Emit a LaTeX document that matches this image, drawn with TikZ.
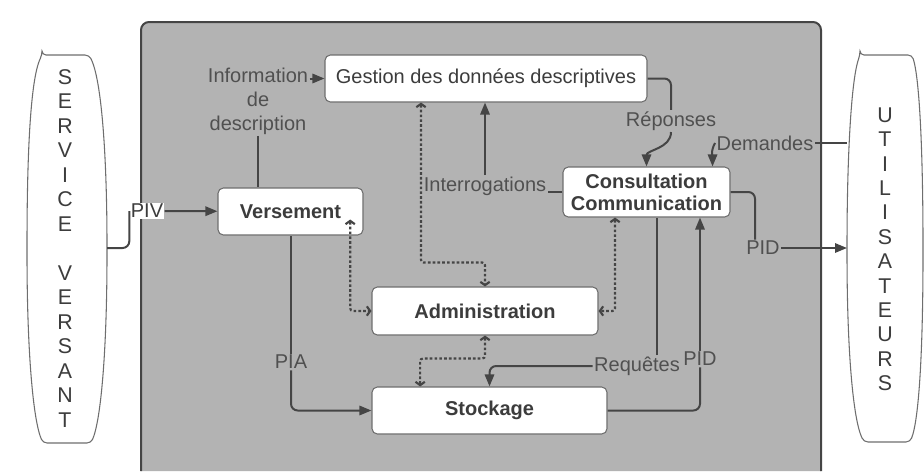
\documentclass[tikz,border=0pt]{standalone}
\usepackage{fontspec}
\setmainfont{Liberation Sans}
\usetikzlibrary{arrows.meta}
\definecolor{trait}{HTML}{454545}
\definecolor{texte}{HTML}{3c3c3c}
\definecolor{fond}{HTML}{b3b3b3}
\definecolor{bord}{HTML}{6e6e6e}
\newcommand{\policebase}{\fontsize{15}{18}\selectfont}
\tikzset{
 bloc/.style={draw=bord, fill=white, rounded corners=4pt, line width=0.8pt, text=texte},
 gras/.style={bloc, font=\policebase\bfseries},
 etiq/.style={inner sep=1pt, text=texte!90!white},
 lettre/.style={inner sep=0pt, text=texte, font=\fontsize{16}{18}\selectfont},
 lien/.style={draw=trait, line width=1.5pt, rounded corners=5pt},
 fleche/.style={lien, -{Triangle[length=9pt,width=7pt]}},
 pointille/.style={draw=trait, line width=1.6pt, dash pattern=on 2pt off 1.6pt, rounded corners=2pt,
   {Straight Barb[length=2.5pt,width=7pt]}-{Straight Barb[length=2.5pt,width=7pt]}},
 colonne/.style={draw=bord, fill=white, line width=0.8pt},
}

\begin{document}
\begin{tikzpicture}[x=0.75pt, y=-0.75pt, font=\policebase]
    \useasboundingbox (0, 0) rectangle (924, 471);

    % cadre gris
    \draw[draw=trait, fill=fond, line width=1.5pt, rounded corners=6pt]
        (141, 471) -- (141, 22) -- (821, 22) -- (821, 471);

    % service versant / utilisateurs
    \draw[colonne, rounded corners=3pt] (42, 55) -- (89, 55)
        .. controls (102, 80) and (107, 160) .. (107, 250)
        .. controls (107, 350) and (101, 420) .. (91, 443) -- (43, 443)
        .. controls (33, 420) and (27, 350) .. (27, 250)
        .. controls (27, 160) and (30, 80) .. (42, 55) -- cycle;
    \foreach \c[count=\i from 0] in {S,E,R,V,I,C,E,{},V,E,R,S,A,N,T} {
        \node[lettre] (sv\i) at (65, 77+24.5*\i) {\c};
    }
    \draw[colonne, rounded corners=3pt] (860, 55) -- (912, 55)
        .. controls (920, 80) and (923, 160) .. (923, 250)
        .. controls (923, 350) and (919, 420) .. (910, 442) -- (864, 442)
        .. controls (853, 420) and (847, 350) .. (847, 250)
        .. controls (847, 160) and (851, 80) .. (860, 55) -- cycle;
    \foreach \c[count=\i from 0] in {U,T,I,L,I,S,A,T,E,U,R,S} {
        \node[lettre] (ut\i) at (885, 115+24.4*\i) {\c};
    }
    \coordinate (svbord) at (107, 248);
    \coordinate (utdem) at (847, 143);
    \coordinate (utpid) at (847, 248);

    % blocs
    \node[bloc, minimum width=241.5pt, minimum height=35.25pt] (gestion) at (486, 78.5) {Gestion des données descriptives};
    \node[gras, minimum width=108.75pt, minimum height=35.25pt] (versement) at (290.5, 211.5) {Versement};
    \node[gras, minimum width=125.25pt, minimum height=37.5pt, align=center, font=\fontsize{15}{16.5}\selectfont\bfseries]
        (consult) at (646.5, 192) {Consultation\\Communication};
    \node[gras, minimum width=169.5pt, minimum height=36pt] (admin) at (485, 311) {Administration};
    \node[gras, minimum width=176.25pt, minimum height=35.25pt] (stock) at (489.5, 410.5) {Stockage};

    % etiquettes
    \node[etiq, fill=white, text=texte] (piv) at (147, 211) {PIV};
    \node[etiq, align=center] (infodesc) at (258, 101) {Information\\de\\description};
    \node[etiq] (interro) at (485, 186) {Interrogations};
    \node[etiq] (reponses) at (671, 121) {Réponses};
    \node[etiq] (demandes) at (765, 143) {Demandes};
    \node[etiq] (pidhaut) at (763, 248) {PID};
    \node[etiq] (pia) at (291, 362) {PIA};
    \node[etiq] (requetes) at (637, 366) {Requêtes};
    \node[etiq] (pidbas) at (700, 359) {PID};

    % flux
    \draw[lien] (svbord) -| (piv.west);
    \draw[fleche] (piv) -- (versement);
    \draw[lien] (infodesc.south) -- (infodesc.south |- versement.north);
    \draw[fleche] (infodesc.east |- gestion.west) -- (gestion.west);
    \draw[lien] (consult.west) -- (consult.west -| interro.east);
    \draw[fleche] (interro.north) -- (interro.north |- gestion.south);
    \draw[lien] (gestion.east) -| (reponses.north);
    \draw[fleche] (reponses.south) to[out=-90, in=90] (consult.north);
    \draw[lien] (utdem) -- (demandes.east);
    \draw[fleche] (demandes.west) to[out=-120, in=90] ([xshift=-13.5pt]consult.north east);
    \draw[lien] (consult.east) -| ([xshift=-6pt]pidhaut.north);
    \draw[fleche] (pidhaut.east) -- (utpid);
    \draw[lien] (pia.north) -- (pia.north |- versement.south);
    \draw[fleche] (pia.south) |- (stock.west);
    \path ([xshift=15pt]requetes.north) coordinate (rq);
    \draw[lien] (rq) -- (rq |- consult.south);
    \draw[fleche] (requetes.west) -| (stock.north);
    \draw[lien] (stock.east) -| (pidbas.south);
    \draw[fleche] (pidbas.north) -- (pidbas.north |- consult.south);

    % liens administratifs
    \draw[pointille] ([xshift=-10pt, yshift=12pt]versement.south east) |- (admin.west);
    \draw[pointille] ([xshift=-48.75pt]gestion.south) -- ++(0, 160) -| (admin.north);
    \draw[pointille] ([xshift=-23.6pt]consult.south) |- (admin.east);
    \draw[pointille] (admin.south) -- ++(0, 23) -| ([xshift=-52pt]stock.north);
\end{tikzpicture}
\end{document}
